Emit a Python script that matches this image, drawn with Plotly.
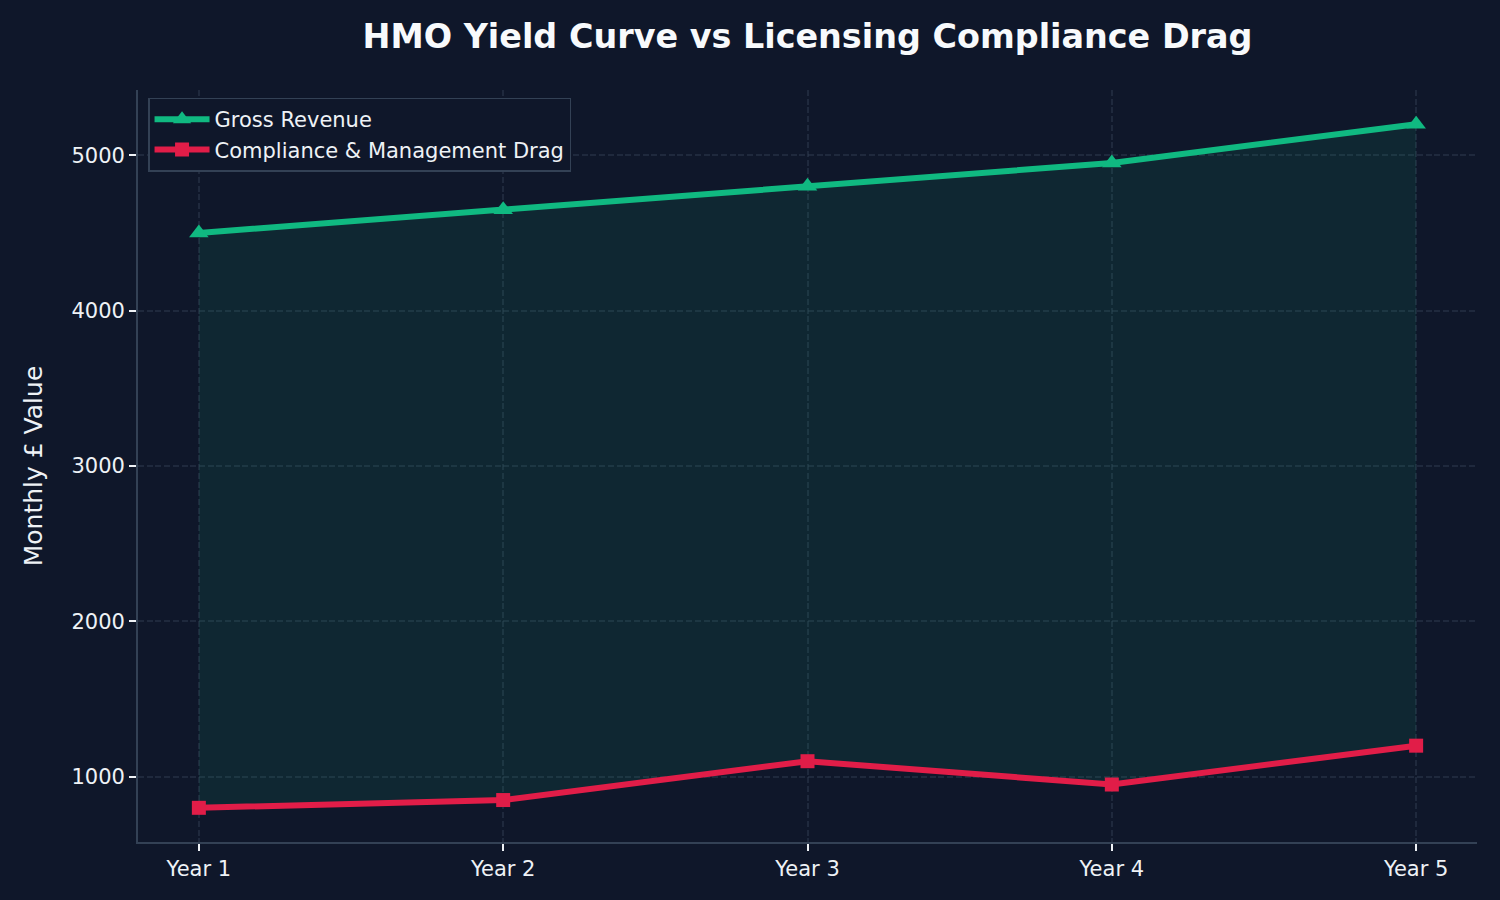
import plotly.graph_objects as go

years = ["Year 1", "Year 2", "Year 3", "Year 4", "Year 5"]
gross_revenue = [4500, 4650, 4800, 4950, 5200]
compliance_drag = [800, 850, 1100, 950, 1200]

BG = "#0f172a"
GREEN = "#10b981"
RED = "#e11d48"
TEXT = "#eef2f6"
SPINE = "#334155"
GRID = "rgba(51,65,85,0.45)"
FONT = "DejaVu Sans"

x_idx = list(range(len(years)))

fig = go.Figure()

# fill between the two series
fig.add_trace(go.Scatter(x=x_idx, y=compliance_drag, mode="lines",
                         line=dict(width=0, color=RED), showlegend=False,
                         hoverinfo="skip"))
fig.add_trace(go.Scatter(x=x_idx, y=gross_revenue, mode="lines",
                         line=dict(width=0, color=GREEN), fill="tonexty",
                         fillcolor="rgba(16,185,129,0.1)", showlegend=False,
                         hoverinfo="skip"))

fig.add_trace(go.Scatter(x=x_idx, y=gross_revenue, mode="lines+markers",
                         name="Gross Revenue",
                         line=dict(color=GREEN, width=6),
                         marker=dict(symbol="triangle-up", size=17, color=GREEN)))
fig.add_trace(go.Scatter(x=x_idx, y=compliance_drag, mode="lines+markers",
                         name="Compliance & Management Drag",
                         line=dict(color=RED, width=6),
                         marker=dict(symbol="square", size=14, color=RED)))

fig.update_layout(
    width=1500, height=900,
    paper_bgcolor=BG, plot_bgcolor=BG,
    margin=dict(l=138, r=23, t=90, b=58),
    font=dict(family=FONT, color=TEXT, size=21),
    title=dict(text="<b>HMO Yield Curve vs Licensing Compliance Drag</b>",
               x=(138 + 1477) / 2 / 1500, xanchor="center",
               y=1 - 36 / 900, yanchor="middle", yref="container",
               font=dict(family=FONT, size=33.4, color="#f8fafc")),
    legend=dict(x=0.0075, y=0.99, xanchor="left", yanchor="top",
                bgcolor=BG, bordercolor=SPINE, borderwidth=1.5,
                font=dict(family=FONT, size=21, color=TEXT),
                itemwidth=55, tracegroupgap=0, traceorder="normal"),
    showlegend=True,
)

fig.update_xaxes(
    range=[-0.2, 4.2],
    tickmode="array", tickvals=x_idx, ticktext=years,
    showline=True, linecolor=SPINE, linewidth=1.7, mirror=False,
    ticks="outside", ticklen=7, tickwidth=1.7, tickcolor=TEXT,
    showgrid=True, gridcolor=GRID, griddash="6px,2.7px", gridwidth=1.7,
    zeroline=False,
    tickfont=dict(family=FONT, size=21, color=TEXT),
)
fig.update_yaxes(
    range=[580, 5420],
    tickmode="linear", tick0=1000, dtick=1000,
    showline=True, linecolor=SPINE, linewidth=1.7, mirror=False,
    ticks="outside", ticklen=7, tickwidth=1.7, tickcolor=TEXT,
    showgrid=True, gridcolor=GRID, griddash="6px,2.7px", gridwidth=1.7,
    zeroline=False,
    tickfont=dict(family=FONT, size=21, color=TEXT),
    title=dict(text="Monthly £ Value", standoff=22,
               font=dict(family=FONT, size=25, color=TEXT)),
)

fig.write_html("out.html")
